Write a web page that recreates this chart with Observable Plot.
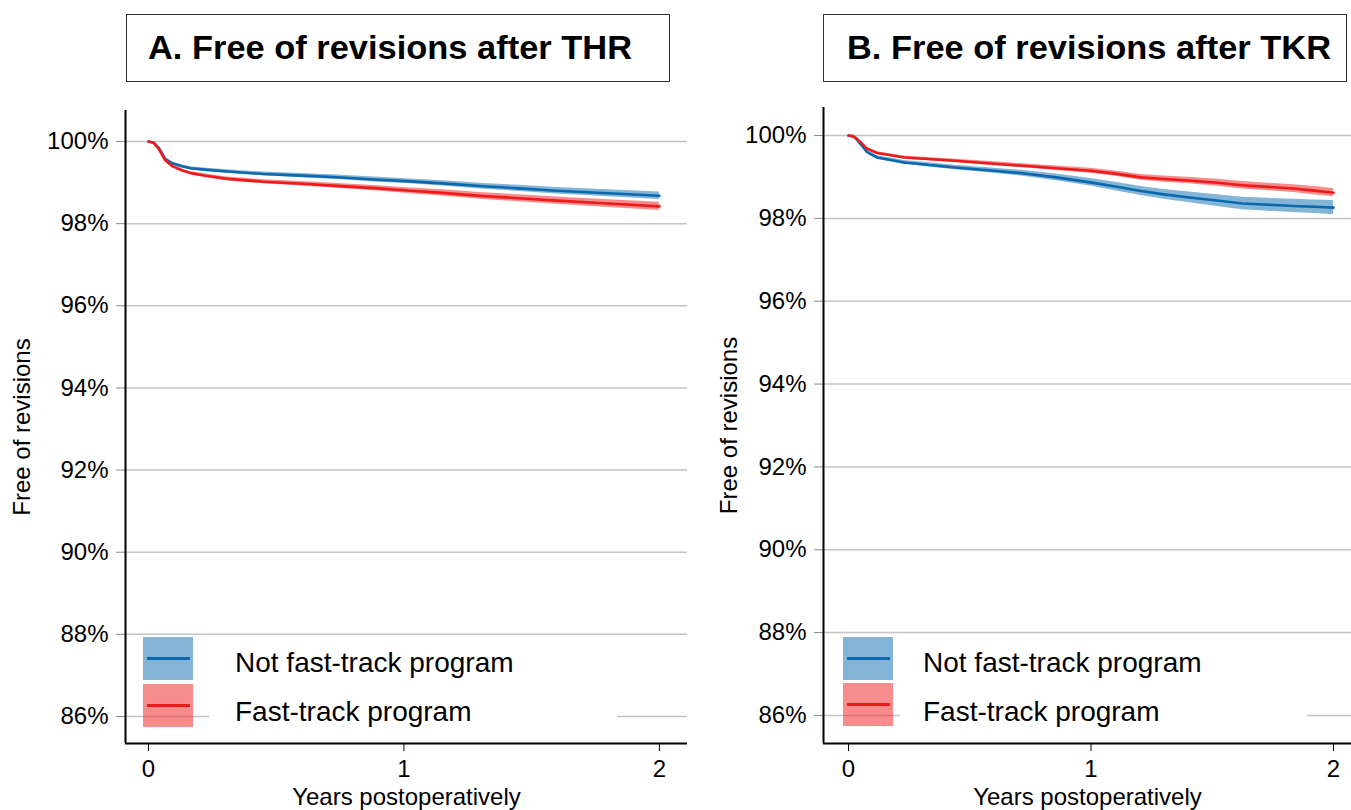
<!DOCTYPE html>
<html><head><meta charset="utf-8">
<script src="https://cdn.jsdelivr.net/npm/d3@7"></script>
<script src="https://cdn.jsdelivr.net/npm/@observablehq/plot@0.6"></script>
<style>
body{margin:0;background:#fff;}
#root{position:relative;width:1351px;height:810px;overflow:hidden;font-family:"Liberation Sans",Arial,sans-serif;background:#fff;}
.panel{position:absolute;top:0;}
.tbox{position:absolute;border:1.5px solid #333;box-sizing:border-box;background:#fff;}
.ttext{position:absolute;white-space:nowrap;font-weight:bold;font-size:33px;line-height:33px;color:#000;transform-origin:left center;}
.lgbg{position:absolute;background:#fff;}
.sw{position:absolute;}
.swl{position:absolute;height:2.5px;}
.lgt{position:absolute;white-space:nowrap;font-size:28px;line-height:28px;color:#000;}
</style>
</head><body>
<div id="root"></div>
<script>
// ---------------- data ----------------
const groups = ["Not fast-track program", "Fast-track program"];
const groupColors = ["#0a69ad", "#ee1a1a"];
const titles = ["A. Free of revisions after THR", "B. Free of revisions after TKR"];
const xLabel = "Years postoperatively";
const yLabel = "Free of revisions";
const yTicks = [86, 88, 90, 92, 94, 96, 98, 100];
const xTicks = [0, 1, 2];

// THR (panel A)
const thrTime      = [0, 0.02, 0.04, 0.065, 0.093, 0.13, 0.165, 0.23, 0.308, 0.45, 0.6, 0.738, 0.9, 1.025, 1.15, 1.312, 1.45, 1.599, 1.8, 2.0];
const thrNotFast   = [100, 99.97, 99.85, 99.58, 99.47, 99.40, 99.35, 99.31, 99.27, 99.21, 99.17, 99.13, 99.07, 99.03, 98.98, 98.91, 98.86, 98.80, 98.74, 98.68];
const thrNotFastCI = [0, 0.01, 0.02, 0.03, 0.03, 0.035, 0.035, 0.04, 0.04, 0.045, 0.05, 0.055, 0.06, 0.06, 0.065, 0.07, 0.075, 0.08, 0.085, 0.09];
const thrFast      = [100, 99.97, 99.82, 99.55, 99.40, 99.30, 99.23, 99.16, 99.09, 99.02, 98.97, 98.92, 98.86, 98.80, 98.75, 98.67, 98.62, 98.56, 98.49, 98.42];
const thrFastCI    = [0, 0.01, 0.02, 0.03, 0.03, 0.035, 0.035, 0.04, 0.045, 0.05, 0.055, 0.06, 0.065, 0.07, 0.075, 0.08, 0.085, 0.09, 0.095, 0.1];

// TKR (panel B)
const tkrTime      = [0, 0.02, 0.035, 0.06, 0.077, 0.118, 0.23, 0.439, 0.6, 0.718, 0.857, 0.997, 1.1, 1.206, 1.3, 1.415, 1.52, 1.624, 1.73, 1.833, 1.92, 2.0];
const tkrNotFast   = [100, 99.98, 99.90, 99.72, 99.60, 99.47, 99.35, 99.23, 99.15, 99.09, 98.99, 98.87, 98.77, 98.66, 98.58, 98.50, 98.43, 98.36, 98.33, 98.30, 98.28, 98.26];
const tkrNotFastCI = [0, 0.01, 0.02, 0.03, 0.035, 0.04, 0.045, 0.055, 0.06, 0.07, 0.08, 0.09, 0.1, 0.11, 0.12, 0.13, 0.14, 0.15, 0.155, 0.16, 0.165, 0.17];
const tkrFast      = [100, 99.98, 99.92, 99.78, 99.68, 99.58, 99.47, 99.39, 99.32, 99.27, 99.21, 99.15, 99.08, 98.99, 98.95, 98.91, 98.86, 98.80, 98.76, 98.72, 98.67, 98.62];
const tkrFastCI    = [0, 0.01, 0.015, 0.02, 0.025, 0.03, 0.035, 0.04, 0.045, 0.05, 0.055, 0.06, 0.065, 0.07, 0.075, 0.08, 0.085, 0.09, 0.09, 0.095, 0.1, 0.1];

// axis extents
const thrXDomain = [-0.09, 2.11];
const thrYDomain = [85.343, 100.755];
const tkrXDomain = [-0.1031, 2.0742];
const tkrYDomain = [85.323, 100.677];

// ---------------- build ----------------
function rows(time, vals, ci, group) {
  return time.map((t, i) => ({t, s: vals[i], lo: vals[i] - ci[i], hi: vals[i] + ci[i], group}));
}

function makePlot(data, xDomain, yDomain, lay) {
  return Plot.plot({
    width: lay.width, height: 810,
    marginLeft: lay.ml, marginRight: lay.mr, marginTop: lay.mt, marginBottom: 67,
    x: {domain: xDomain},
    y: {domain: yDomain},
    color: {domain: groups, range: groupColors},
    style: {fontFamily: '"Liberation Sans", Arial, sans-serif', fontSize: "24px", color: "#000", background: "transparent", overflow: "visible"},
    marks: [
      Plot.gridY(yTicks, {stroke: "#c4c4c4", strokeOpacity: 1, strokeWidth: 1.5}),
      Plot.areaY(data, {x: "t", y1: "lo", y2: "hi", z: "group", fill: "group", fillOpacity: 0.5, curve: "linear"}),
      Plot.line(data, {x: "t", y: "s", z: "group", stroke: "group", strokeWidth: 2.6, curve: "linear"}),
      Plot.axisY(yTicks, {tickFormat: d => d + "%", tickSize: 9, tickPadding: 8, stroke: "#888", strokeOpacity: 1,
        label: yLabel, labelAnchor: "center", labelArrow: "none", labelOffset: lay.lo}),
      Plot.axisX(xTicks, {tickSize: 8, tickPadding: 8, stroke: "#000", strokeOpacity: 1, tickFormat: d => String(d),
        label: xLabel, labelAnchor: "center", labelArrow: "none", labelOffset: 61}),
      Plot.ruleX([xDomain[0]], {stroke: "#000", strokeWidth: 2}),
      Plot.ruleY([yDomain[0]], {stroke: "#000", strokeWidth: 2})
    ]
  });
}

const root = document.getElementById("root");

function addPanel(left, width, plot) {
  const d = document.createElement("div");
  d.className = "panel";
  d.style.left = left + "px";
  d.style.width = width + "px";
  d.appendChild(plot);
  root.appendChild(d);
}

function addTitle(text, box, tx) {
  const b = document.createElement("div");
  b.className = "tbox";
  Object.assign(b.style, {left: box[0] + "px", top: box[1] + "px", width: box[2] + "px", height: box[3] + "px"});
  root.appendChild(b);
  const t = document.createElement("div");
  t.className = "ttext";
  t.textContent = text;
  Object.assign(t.style, {left: tx[0] + "px", top: tx[1] + "px"});
  root.appendChild(t);
  const w = t.getBoundingClientRect().width;
  t.style.transform = `scaleX(${tx[2] / w})`;
}

function addLegend(L) {
  const bg = document.createElement("div");
  bg.className = "lgbg";
  Object.assign(bg.style, {left: L.bg[0] + "px", top: L.bg[1] + "px", width: L.bg[2] + "px", height: L.bg[3] + "px"});
  root.appendChild(bg);
  groups.forEach((g, i) => {
    const top = L.swTop[i];
    const sw = document.createElement("div");
    sw.className = "sw";
    Object.assign(sw.style, {left: L.swx + "px", top: top + "px", width: "50px", height: "43px", background: groupColors[i], opacity: 0.5});
    root.appendChild(sw);
    const ln = document.createElement("div");
    ln.className = "swl";
    Object.assign(ln.style, {left: (L.swx + 4) + "px", top: (top + 20) + "px", width: "43px", background: groupColors[i]});
    root.appendChild(ln);
    const tx = document.createElement("div");
    tx.className = "lgt";
    tx.textContent = g;
    Object.assign(tx.style, {left: L.tx + "px", top: L.txTop[i] + "px"});
    root.appendChild(tx);
  });
}

const dataA = [...rows(thrTime, thrNotFast, thrNotFastCI, groups[0]), ...rows(thrTime, thrFast, thrFastCI, groups[1])];
const dataB = [...rows(tkrTime, tkrNotFast, tkrNotFastCI, groups[0]), ...rows(tkrTime, tkrFast, tkrFastCI, groups[1])];

addPanel(0, 700, makePlot(dataA, thrXDomain, thrYDomain, {width: 700, ml: 125, mr: 13, mt: 110, lo: 113}));
addPanel(700, 651, makePlot(dataB, tkrXDomain, tkrYDomain, {width: 651, ml: 123, mr: 0, mt: 107, lo: 104}));

addLegend({bg: [209, 640, 408, 102], swx: 143, swTop: [637, 684], tx: 235, txTop: [649, 698]});
addLegend({bg: [900, 640, 407, 102], swx: 843, swTop: [637, 683], tx: 923, txTop: [649, 698]});

addTitle(titles[0], [126, 14, 544, 68], [148, 31, 484]);
addTitle(titles[1], [823, 14, 524, 68], [847, 31, 484]);
</script>
</body></html>
